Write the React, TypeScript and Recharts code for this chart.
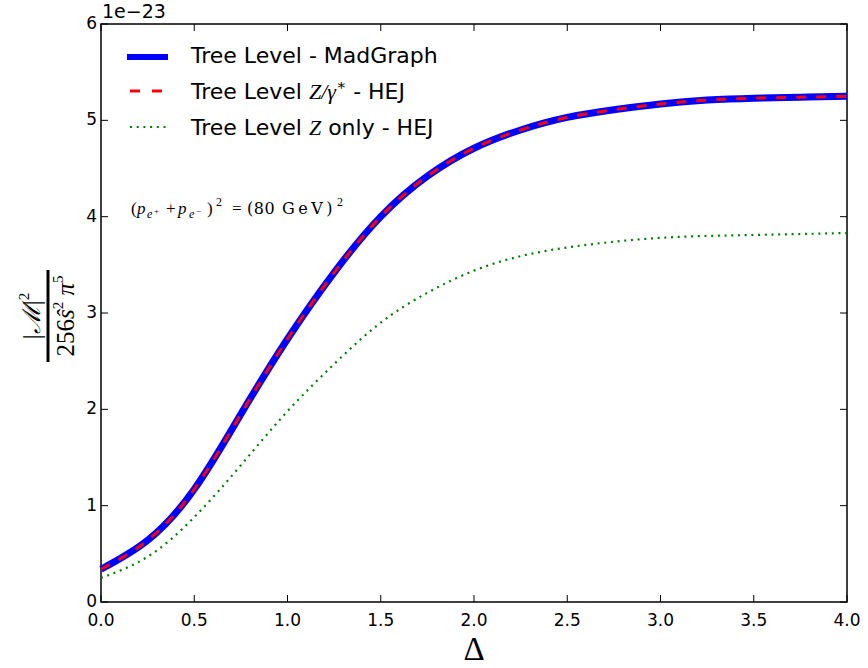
import React from 'react';
import { LineChart, Line, XAxis, YAxis, ReferenceArea } from 'recharts';

// Delta values (x) and |M|^2 / (256 s^2 pi^5) in units of 1e-23
const delta = [0, 0.25, 0.5, 0.75, 1.0, 1.25, 1.5, 1.75, 2.0, 2.25, 2.5, 2.75, 3.0, 3.25, 3.5, 3.75, 4.0];
const madGraph = [0.34, 0.64, 1.17, 1.95, 2.73, 3.42, 4.0, 4.42, 4.71, 4.9, 5.03, 5.11, 5.17, 5.21, 5.23, 5.24, 5.25];
const hejZGamma = [0.34, 0.64, 1.17, 1.95, 2.73, 3.42, 4.0, 4.42, 4.71, 4.9, 5.03, 5.11, 5.17, 5.21, 5.23, 5.24, 5.25];
const hejZOnly = [0.25, 0.47, 0.88, 1.42, 1.98, 2.47, 2.9, 3.21, 3.44, 3.59, 3.68, 3.74, 3.78, 3.8, 3.81, 3.82, 3.83];

const xTicks = [0, 0.5, 1.0, 1.5, 2.0, 2.5, 3.0, 3.5, 4.0];
const yTicks = [0, 1, 2, 3, 4, 5, 6];

const W = 868;
const H = 668;
const LEFT = 101;
const RIGHT = 847;
const TOP = 24;
const BOTTOM = 602;
const TICK = 7;
const Y_AXIS_W = 40;
const X_AXIS_H = 30;

const data = delta.map((d, i) => ({
  delta: d,
  madGraph: madGraph[i],
  hejZGamma: hejZGamma[i],
  hejZOnly: hejZOnly[i],
}));

const sans = '"DejaVu Sans", sans-serif';
const serif = '"Liberation Serif", "DejaVu Serif", serif';
const serifWide = '"DejaVu Serif", serif';

const XTick = (props: any) => {
  const { x, payload } = props;
  return (
    <g>
      <line x1={x} x2={x} y1={BOTTOM} y2={BOTTOM - TICK} stroke="#000" strokeWidth={1} />
      <line x1={x} x2={x} y1={TOP} y2={TOP + TICK} stroke="#000" strokeWidth={1} />
      <text x={x} y={BOTTOM + 24} textAnchor="middle" fontFamily={sans} fontSize={17} fill="#000">
        {Number(payload.value).toFixed(1)}
      </text>
    </g>
  );
};

const YTick = (props: any) => {
  const { y, payload } = props;
  return (
    <g>
      <line x1={LEFT} x2={LEFT + TICK} y1={y} y2={y} stroke="#000" strokeWidth={1} />
      <line x1={RIGHT} x2={RIGHT - TICK} y1={y} y2={y} stroke="#000" strokeWidth={1} />
      <text x={LEFT - 4} y={y + 5} textAnchor="end" fontFamily={sans} fontSize={17} fill="#000">
        {payload.value}
      </text>
    </g>
  );
};

const Overlay = () => (
  <svg
    width={W}
    height={H}
    style={{ position: 'absolute', left: 0, top: 0, pointerEvents: 'none' }}
  >
    {/* offset text */}
    <text x={102} y={18} fontFamily={sans} fontSize={19} fill="#000">
      1e−23
    </text>

    {/* legend */}
    <line x1={127} x2={168} y1={57} y2={57} stroke="#0000ff" strokeWidth={6} />
    <line x1={130} x2={165} y1={91} y2={91} stroke="#ff0000" strokeWidth={3} strokeDasharray="10 12" />
    <line x1={130} x2={166} y1={127} y2={127} stroke="#008000" strokeWidth={2} strokeDasharray="2 4.7" />
    <text x={191} y={63} fontFamily={sans} fontSize={22} fill="#000">
      Tree Level - MadGraph
    </text>
    <text x={191} y={99} fontFamily={sans} fontSize={22} fill="#000">
      Tree Level{' '}
      <tspan fontFamily={serif} fontStyle="italic">Z/γ</tspan>
      <tspan fontFamily={serif} fontSize={15} dy={-9}>∗</tspan>
      <tspan dy={9}>{'  '}- HEJ</tspan>
    </text>
    <text x={191} y={135} fontFamily={sans} fontSize={22} fill="#000">
      Tree Level <tspan fontFamily={serif} fontStyle="italic">Z</tspan> only - HEJ
    </text>

    {/* annotation */}
    <text fontFamily={serif} fontSize={17} fill="#000">
      <tspan x={131} y={214}>(</tspan>
      <tspan x={137} y={214} fontStyle="italic">p</tspan>
      <tspan x={147} y={218} fontStyle="italic" fontSize={12}>e</tspan>
      <tspan x={154} y={214} fontSize={9}>+</tspan>
      <tspan x={166} y={214}>+</tspan>
      <tspan x={178} y={214} fontStyle="italic">p</tspan>
      <tspan x={189} y={218} fontStyle="italic" fontSize={12}>e</tspan>
      <tspan x={196} y={214} fontSize={9}>−</tspan>
      <tspan x={207} y={214}>)</tspan>
      <tspan x={216} y={206} fontSize={12}>2</tspan>
      <tspan x={232} y={214}>=</tspan>
      <tspan x={247} y={214} fontFamily={serifWide} fontSize={16} letterSpacing={0.5}>(80</tspan>
      <tspan x={282} y={214} fontFamily={serifWide} fontSize={16} letterSpacing={3.5}>GeV)</tspan>
      <tspan x={337} y={206} fontSize={12}>2</tspan>
    </text>

    {/* y label */}
    <g transform="translate(48,316) rotate(-90)">
      <text x={0} y={-8} textAnchor="middle" fontFamily={serif} fontSize={25} fill="#000">
        |<tspan fontStyle="italic">ℳ</tspan>|<tspan fontSize={15} dy={-11}>2</tspan>
      </text>
      <line x1={-46} x2={46} y1={0} y2={0} stroke="#000" strokeWidth={3} />
      <text x={0} y={26} textAnchor="middle" fontFamily={serif} fontSize={25} fill="#000">
        256<tspan fontStyle="italic">ŝ</tspan>
        <tspan fontSize={15} dy={-11}>2</tspan>
        <tspan dy={11}> </tspan>
        <tspan fontStyle="italic">π</tspan>
        <tspan fontSize={15} dy={-11}>5</tspan>
      </text>
    </g>

    {/* x label */}
    <text x={474} y={660} textAnchor="middle" fontFamily={serif} fontSize={33} fill="#000">
      Δ
    </text>
  </svg>
);

export default function App() {
  return (
    <div style={{ position: 'absolute', left: 0, top: 0, width: W, height: H, background: '#fff' }}>
      <LineChart
        width={W}
        height={H}
        data={data}
        margin={{ top: TOP, right: W - RIGHT, bottom: H - BOTTOM - X_AXIS_H, left: LEFT - Y_AXIS_W }}
      >
        <XAxis
          dataKey="delta"
          type="number"
          domain={[0, 4]}
          ticks={xTicks}
          height={X_AXIS_H}
          axisLine={false}
          tickLine={false}
          tick={<XTick />}
          interval={0}
        />
        <YAxis
          type="number"
          domain={[0, 6]}
          ticks={yTicks}
          width={Y_AXIS_W}
          axisLine={false}
          tickLine={false}
          tick={<YTick />}
          interval={0}
        />
        <Line
          type="natural"
          dataKey="madGraph"
          stroke="#0000ff"
          strokeWidth={7}
          dot={false}
          isAnimationActive={false}
        />
        <Line
          type="natural"
          dataKey="hejZGamma"
          stroke="#ff0000"
          strokeWidth={3}
          strokeDasharray="10 10"
          dot={false}
          isAnimationActive={false}
        />
        <Line
          type="natural"
          dataKey="hejZOnly"
          stroke="#008000"
          strokeWidth={2.2}
          strokeDasharray="2 4.7"
          dot={false}
          isAnimationActive={false}
        />
        <ReferenceArea x1={0} x2={4} y1={0} y2={6} fill="none" stroke="#000" strokeWidth={1.5} fillOpacity={0} />
      </LineChart>
      <Overlay />
    </div>
  );
}
